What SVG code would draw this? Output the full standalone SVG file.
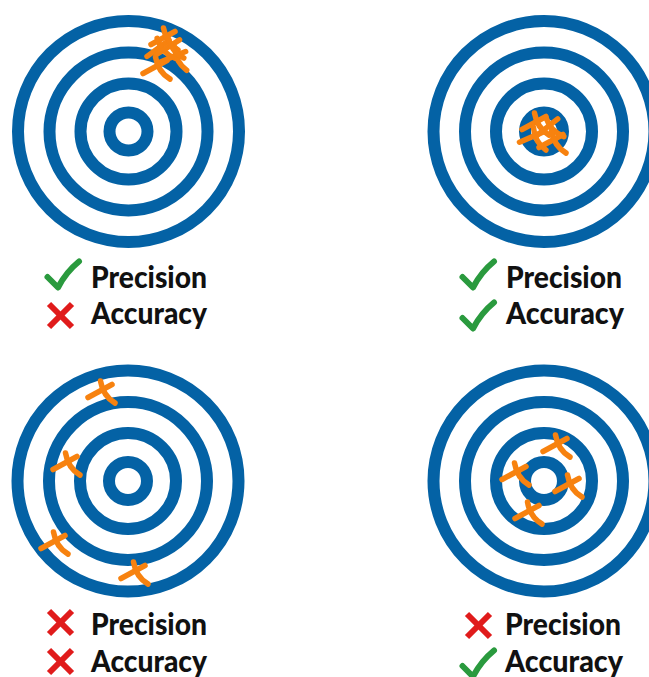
<svg xmlns="http://www.w3.org/2000/svg" xmlns:xlink="http://www.w3.org/1999/xlink" width="649" height="677" viewBox="0 0 649 677">
<style>
.ring{fill:none;stroke:#0462a5;stroke-width:12}
.mk{fill:none;stroke:#f7820f;stroke-width:5.5;stroke-linecap:round;stroke-linejoin:round}
.chk{fill:none;stroke:#2a9a3e;stroke-width:6;stroke-linecap:round;stroke-linejoin:round}
.crs{fill:none;stroke:#e01b1b;stroke-width:6;stroke-linecap:butt}
.lbl{font-family:Lato,"Liberation Sans",sans-serif;font-weight:900;font-size:30px;fill:#111}
</style>
<defs>
<g id="target">
<circle r="110.5" class="ring"/>
<circle r="79" class="ring"/>
<circle r="48" class="ring"/>
<circle r="19" class="ring"/>
</g>
<g id="m" class="mk">
<path d="M-14,6.5 Q-2,0 10,-6.5"/>
<path d="M-1.5,-10 Q1,5 13,12"/>
</g>
<path id="check" class="chk" d="M1.5,17 L12,27.5 C18,16 25,8 33,1.5"/>
<g id="cross" class="crs">
<path d="M1,2 L24,25"/>
<path d="M24,2 L1,25"/>
</g>
</defs>
<rect width="649" height="677" fill="#fff"/>

<g id="target-tl">
<use xlink:href="#target" x="128.5" y="131.5"/>
<use xlink:href="#m" transform="translate(165,38)"/>
<use xlink:href="#m" transform="translate(160,48) rotate(-8)"/>
<use xlink:href="#m" transform="translate(175,57) rotate(6)"/>
<use xlink:href="#m" transform="translate(157,67)"/>
<use xlink:href="#m" transform="translate(170,47) rotate(-4)"/>
</g>

<g id="target-tr">
<use xlink:href="#target" x="544" y="131.5"/>
<use xlink:href="#m" transform="translate(536,123)"/>
<use xlink:href="#m" transform="translate(549,127) rotate(-10)"/>
<use xlink:href="#m" transform="translate(534,137) rotate(5)"/>
<use xlink:href="#m" transform="translate(553,141)"/>
</g>

<g id="target-bl">
<use xlink:href="#target" x="128" y="481"/>
<use xlink:href="#m" transform="translate(102,391)"/>
<use xlink:href="#m" transform="translate(67,463)"/>
<use xlink:href="#m" transform="translate(55,542)"/>
<use xlink:href="#m" transform="translate(135,572)"/>
</g>

<g id="target-br">
<use xlink:href="#target" x="544" y="481"/>
<use xlink:href="#m" transform="translate(557,445)"/>
<use xlink:href="#m" transform="translate(516,473)"/>
<use xlink:href="#m" transform="translate(569,485)"/>
<use xlink:href="#m" transform="translate(529,512)"/>
</g>

<g id="label-tl">
<use xlink:href="#check" x="46" y="260"/>
<text class="lbl" x="91" y="288" textLength="116" lengthAdjust="spacingAndGlyphs">Precision</text>
<use xlink:href="#cross" x="48" y="302"/>
<text class="lbl" x="91" y="324" textLength="116" lengthAdjust="spacingAndGlyphs">Accuracy</text>
</g>

<g id="label-tr">
<use xlink:href="#check" x="461" y="260"/>
<text class="lbl" x="506" y="288" textLength="116" lengthAdjust="spacingAndGlyphs">Precision</text>
<use xlink:href="#check" x="461" y="301"/>
<text class="lbl" x="506" y="324" textLength="118" lengthAdjust="spacingAndGlyphs">Accuracy</text>
</g>

<g id="label-bl">
<use xlink:href="#cross" x="48" y="609"/>
<text class="lbl" x="91" y="635" textLength="116" lengthAdjust="spacingAndGlyphs">Precision</text>
<use xlink:href="#cross" x="48" y="648"/>
<text class="lbl" x="91" y="672" textLength="116" lengthAdjust="spacingAndGlyphs">Accuracy</text>
</g>

<g id="label-br">
<use xlink:href="#cross" x="466" y="612"/>
<text class="lbl" x="505" y="635" textLength="116" lengthAdjust="spacingAndGlyphs">Precision</text>
<use xlink:href="#check" x="461" y="649"/>
<text class="lbl" x="505" y="672" textLength="118" lengthAdjust="spacingAndGlyphs">Accuracy</text>
</g>
</svg>
